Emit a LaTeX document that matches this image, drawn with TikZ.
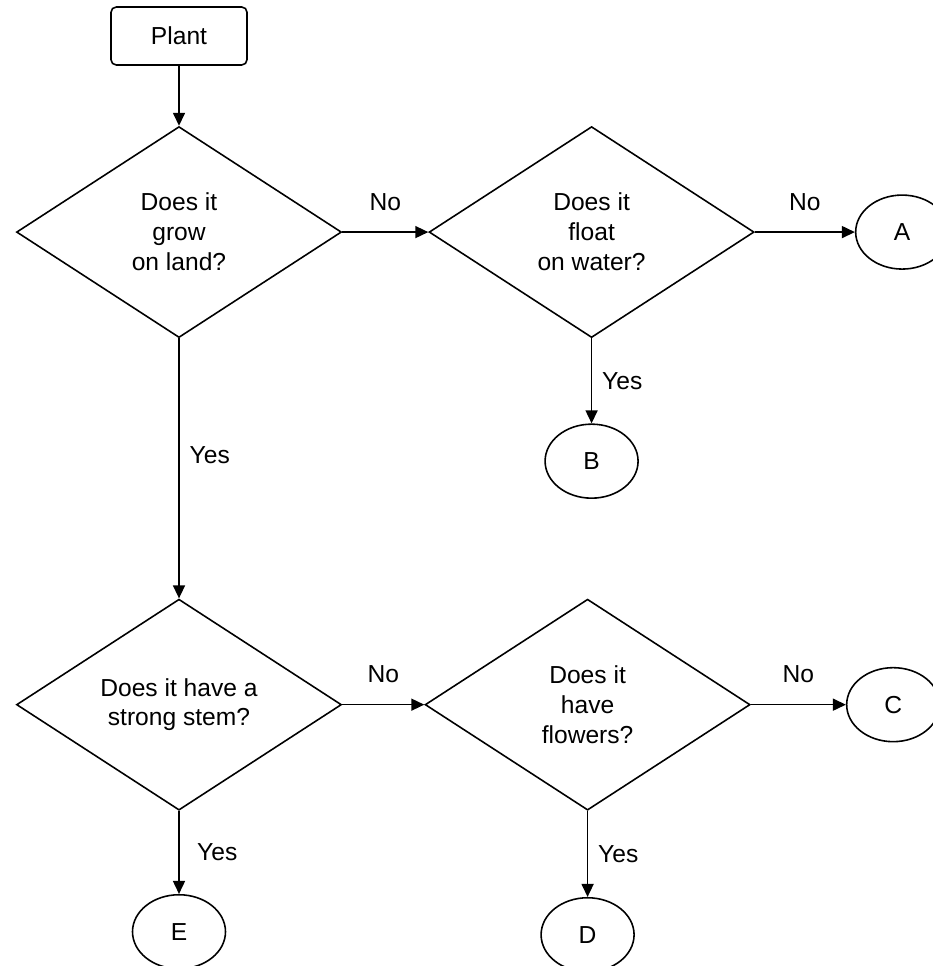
\documentclass[tikz,border=0pt]{standalone}
\usepackage{fontspec}
\setmainfont{Liberation Sans}
\usepackage{tikz}
\usetikzlibrary{positioning,arrows.meta,shapes.geometric}
\tikzset{
  node-start/.style={draw,line width=0.9pt,rounded corners=3pt,
    minimum width=2.72cm,minimum height=1.16cm,align=center},
  node-ask/.style={draw,line width=0.9pt,diamond,inner sep=0pt,
    minimum width=6.5cm,minimum height=4.22cm,align=center},
  node-end/.style={draw,line width=0.9pt,ellipse,inner sep=0pt,
    minimum width=1.86cm,minimum height=1.48cm},
  arrow/.style={-{Triangle[length=2.6mm,width=2.4mm]},line width=0.9pt},
  lbl-no/.style={above=3mm,pos=0.5},
  lbl-yes/.style={right=0.8mm},
}

\begin{document}
\begin{tikzpicture}[font=\fontsize{14}{17}\selectfont]
  \useasboundingbox (0,0) rectangle (18.66,-19.32);
  \node[node-start] (plant) at (3.58,-0.72) {Plant};
  \node[node-ask,below=1.2cm of plant] (land) {Does it\\grow\\on land?};
  \node[node-ask,right=1.72cm of land] (float) {Does it\\float\\on water?};
  \node[node-end,right=2.0cm of float] (endA) {A};
  \node[node-end,below=1.7cm of float] (endB) {B};
  \node[node-ask,below=5.2cm of land] (stem) {Does it have a\\strong stem?};
  \node[node-ask,right=1.64cm of stem] (flower) {Does it\\have\\flowers?};
  \node[node-end,right=1.9cm of flower] (endC) {C};
  \node[node-end,below=1.72cm of flower] (endD) {D};
  \node[node-end,below=1.66cm of stem] (endE) {E};
  % connectors
  \draw[arrow] (plant) -- (land);
  \draw[arrow] (land) -- node[lbl-no]{No} (float);
  \draw[arrow] (float) -- node[lbl-no]{No} (endA);
  \draw[arrow] (float) -- node[lbl-yes]{Yes} (endB);
  \draw[arrow] (land) -- node[lbl-yes,pos=0.45]{Yes} (stem);
  \draw[arrow] (stem) -- node[lbl-no]{No} (flower);
  \draw[arrow] (flower) -- node[lbl-no]{No} (endC);
  \draw[arrow] (flower) -- node[lbl-yes]{Yes} (endD);
  \draw[arrow] (stem) -- node[lbl-yes,xshift=1.5mm]{Yes} (endE);
\end{tikzpicture}
\end{document}
